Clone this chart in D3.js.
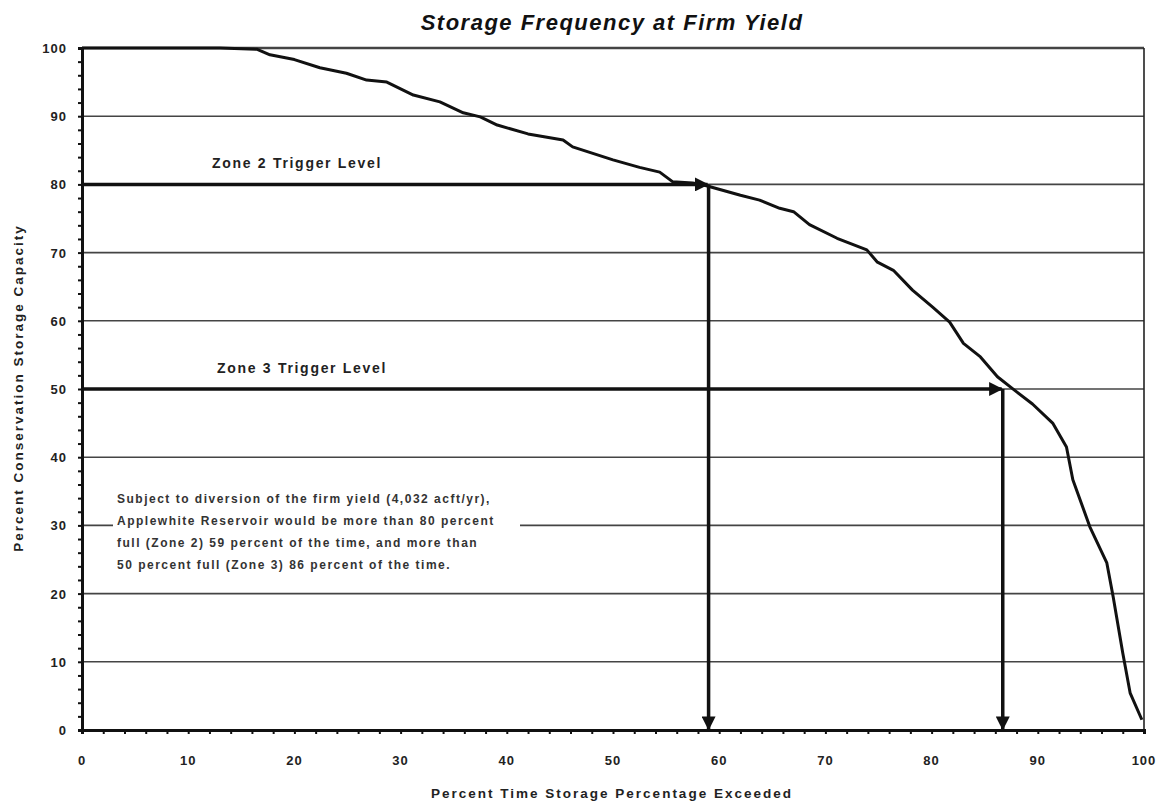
<!DOCTYPE html>
<html>
<head>
<meta charset="utf-8">
<script src="https://cdn.jsdelivr.net/npm/d3@7"></script>
<style>
  body { margin: 0; background: #fff; }
  text { font-family: "Liberation Sans", Arial, sans-serif; }
</style>
</head>
<body>
<svg id="drawing_region"></svg>
<script>
// percent of time exceeded vs. storage (% of conservation capacity)
const pctTime = [0, 5, 10, 13, 16.5, 17.7, 20, 22.4, 24.9, 26.8, 28.7, 31.2, 33.7, 35.9, 37.5, 39.1,
    42, 45.3, 46.2, 50, 52.5, 54.4, 55.6, 57.5, 58.8, 62, 63.8, 65.7, 67, 68.5, 71.1, 73.9, 74.9,
    76.4, 78.2, 80.1, 81.7, 83, 84.6, 86.2, 87.5, 89.5, 91.4, 92.7, 93.3, 94.9, 96.5, 97.1, 98, 98.7, 99.8];
const storage = [100, 100, 100, 100, 99.8, 99, 98.3, 97.1, 96.3, 95.3, 95.0, 93.1, 92.1, 90.5, 89.9, 88.7,
    87.4, 86.5, 85.5, 83.6, 82.5, 81.8, 80.4, 80.2, 79.8, 78.4, 77.7, 76.5, 76, 74.1, 72.1, 70.4, 68.6,
    67.4, 64.5, 62, 59.8, 56.7, 54.7, 51.8, 50.2, 47.8, 45, 41.5, 36.7, 29.8, 24.5, 19.5, 11.3, 5.4, 1.5];

const xTicks = [0, 10, 20, 30, 40, 50, 60, 70, 80, 90, 100];
const yTicks = [0, 10, 20, 30, 40, 50, 60, 70, 80, 90, 100];

const triggerNames = ["Zone 2 Trigger Level", "Zone 3 Trigger Level"];
const triggerLevels = [80, 50];
const triggerPct = [59, 86.7];

const noteLines = [
    "Subject to diversion of the firm yield (4,032 acft/yr),",
    "Applewhite Reservoir would be more than 80 percent",
    "full (Zone 2) 59 percent of the time, and more than",
    "50 percent full (Zone 3) 86 percent of the time."
];

const width = 1164, height = 804;
const margin = {top: 48, right: 20, bottom: 74, left: 82};
const innerW = 1144 - margin.left;
const innerH = 730 - margin.top;

const svg = d3.select('#drawing_region')
    .attr('width', width)
    .attr('height', height);

svg.append('defs').append('marker')
    .attr('id', 'arrow')
    .attr('viewBox', '0 0 10 10')
    .attr('refX', 9).attr('refY', 5)
    .attr('markerWidth', 4).attr('markerHeight', 4)
    .attr('markerUnits', 'strokeWidth')
    .attr('orient', 'auto')
    .append('path')
    .attr('d', 'M0,0L10,5L0,10z')
    .attr('fill', '#111');

const chart = svg.append('g')
    .attr('transform', `translate(${margin.left}, ${margin.top})`);

const xscale = d3.scaleLinear().domain([0, 100]).range([0, innerW]);
const yscale = d3.scaleLinear().domain([0, 100]).range([innerH, 0]);

// gridlines
chart.append('g')
    .selectAll('line')
    .data(yTicks.filter(d => d > 0))
    .join('line')
    .attr('x1', 0).attr('x2', innerW)
    .attr('y1', d => yscale(d)).attr('y2', d => yscale(d))
    .attr('stroke', '#444')
    .attr('stroke-width', d => d === 100 ? 2.5 : 1.6);

// right border
chart.append('line')
    .attr('x1', innerW).attr('x2', innerW)
    .attr('y1', 0).attr('y2', innerH)
    .attr('stroke', '#222').attr('stroke-width', 1.6);

// minor ticks every 2 units
const minor = d3.range(0, 101, 2);

const xaxis = d3.axisBottom(xscale)
    .tickValues(minor)
    .tickSize(4)
    .tickFormat('');
chart.append('g')
    .attr('transform', `translate(0, ${innerH})`)
    .call(xaxis)
    .call(g => g.select('.domain').attr('stroke', '#111').attr('stroke-width', 3))
    .call(g => g.selectAll('.tick line').attr('stroke', '#111').attr('stroke-width', 2));

const yaxis = d3.axisLeft(yscale)
    .tickValues(minor)
    .tickSize(4)
    .tickFormat('');
chart.append('g')
    .call(yaxis)
    .call(g => g.select('.domain').attr('stroke', '#111').attr('stroke-width', 3))
    .call(g => g.selectAll('.tick line').attr('stroke', '#111').attr('stroke-width', 2));

// tick labels
chart.append('g')
    .selectAll('text')
    .data(xTicks)
    .join('text')
    .attr('x', d => xscale(d))
    .attr('y', innerH + 35)
    .attr('text-anchor', 'middle')
    .attr('font-size', '13px')
    .attr('font-weight', 'bold')
    .attr('letter-spacing', '1px')
    .attr('fill', '#222')
    .text(d => d);

chart.append('g')
    .selectAll('text')
    .data(yTicks)
    .join('text')
    .attr('x', -15)
    .attr('y', d => yscale(d) + 5)
    .attr('text-anchor', 'end')
    .attr('font-size', '13px')
    .attr('font-weight', 'bold')
    .attr('letter-spacing', '1px')
    .attr('fill', '#222')
    .text(d => d);

// note box interrupts the 30 gridline
const note = chart.append('g');
note.append('rect')
    .attr('x', 31).attr('y', 440)
    .attr('width', 407).attr('height', 92)
    .attr('fill', '#fff');
note.selectAll('text')
    .data(noteLines)
    .join('text')
    .attr('x', 35)
    .attr('y', (d, i) => 455 + i * 22)
    .attr('font-size', '12px')
    .attr('font-weight', 'bold')
    .attr('letter-spacing', '1.5px')
    .attr('fill', '#333')
    .text(d => d);

// storage curve
const line = d3.line()
    .x((d, i) => xscale(pctTime[i]))
    .y(d => yscale(d));
chart.append('path')
    .datum(storage)
    .attr('d', line)
    .attr('fill', 'none')
    .attr('stroke', '#111')
    .attr('stroke-width', 3)
    .attr('stroke-linejoin', 'round');

// trigger arrows
triggerLevels.forEach((lv, i) => {
    const g = chart.append('g');
    g.append('line')
        .attr('x1', 0).attr('x2', xscale(triggerPct[i]) - 1)
        .attr('y1', yscale(lv)).attr('y2', yscale(lv))
        .attr('stroke', '#111').attr('stroke-width', 3.5)
        .attr('marker-end', 'url(#arrow)');
    g.append('line')
        .attr('x1', xscale(triggerPct[i])).attr('x2', xscale(triggerPct[i]))
        .attr('y1', yscale(lv)).attr('y2', innerH - 1)
        .attr('stroke', '#111').attr('stroke-width', 3.5)
        .attr('marker-end', 'url(#arrow)');
    g.append('text')
        .attr('x', i === 0 ? 130 : 135)
        .attr('y', yscale(lv) - 16)
        .attr('font-size', '14px')
        .attr('font-weight', 'bold')
        .attr('letter-spacing', '1.7px')
        .attr('fill', '#222')
        .text(triggerNames[i]);
});

// title and axis labels
svg.append('text')
    .attr('x', 612).attr('y', 30)
    .attr('text-anchor', 'middle')
    .attr('font-size', '22px')
    .attr('font-weight', 'bold')
    .attr('font-style', 'italic')
    .attr('letter-spacing', '1.5px')
    .attr('fill', '#111')
    .text('Storage Frequency at Firm Yield');

svg.append('text')
    .attr('x', 612).attr('y', 798)
    .attr('text-anchor', 'middle')
    .attr('font-size', '13.5px')
    .attr('font-weight', 'bold')
    .attr('letter-spacing', '2px')
    .attr('fill', '#222')
    .text('Percent Time Storage Percentage Exceeded');

svg.append('text')
    .attr('transform', 'translate(23, 388) rotate(-90)')
    .attr('text-anchor', 'middle')
    .attr('font-size', '13.5px')
    .attr('font-weight', 'bold')
    .attr('letter-spacing', '2px')
    .attr('fill', '#222')
    .text('Percent Conservation Storage Capacity');
</script>
</body>
</html>
